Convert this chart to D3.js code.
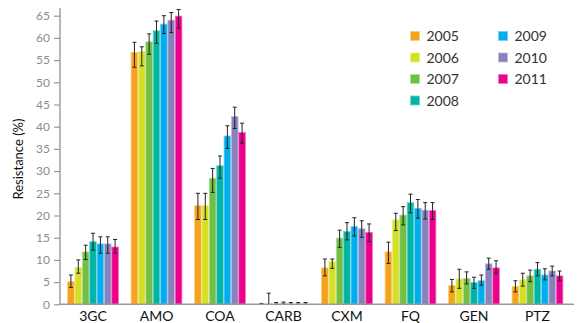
<!DOCTYPE html>
<html>
<head>
<meta charset="utf-8">
<style>
  body { margin: 0; background: #fff; }
  svg { display: block; font-family: Lato, "Noto Sans", sans-serif; }
</style>
</head>
<body>
<svg width="580" height="323"></svg>
<script src="https://d3js.org/d3.v7.min.js"></script>
<script>
// resistance (%) by antibiotic class, 2005-2011, with error bars

var categories = ["3GC", "AMO", "COA", "CARB", "CXM", "FQ", "GEN", "PTZ"];
var years = ["2005", "2006", "2007", "2008", "2009", "2010", "2011"];
var colors = ["#f7a21b", "#d7df23", "#72bf44", "#00b5a5", "#00aeef", "#8781bd", "#ec008c"];
var yTicks = [0, 5, 10, 15, 20, 25, 30, 35, 40, 45, 50, 55, 60, 65];

// one row per category, one column per year
var resistance = [
  [5.1, 8.3, 11.8, 14.1, 13.6, 13.6, 12.9],
  [56.7, 56.9, 59.1, 61.6, 63.1, 64.0, 64.9],
  [22.2, 22.2, 28.4, 31.2, 37.9, 42.3, 38.7],
  [0, 0, 0, 0.1, 0, 0, 0],
  [8.2, 9.6, 14.9, 16.4, 17.5, 17.0, 16.2],
  [11.8, 19.0, 20.1, 22.9, 21.6, 21.2, 21.1],
  [4.2, 5.7, 5.8, 4.9, 5.3, 9.1, 8.2],
  [4.0, 5.5, 6.4, 7.9, 6.6, 7.5, 6.4]
];
var ciLow = [
  [3.8, 7.0, 10.1, 12.2, 11.5, 11.5, 11.5],
  [53.4, 53.7, 56.3, 58.8, 61.0, 61.2, 62.2],
  [19.1, 19.1, 25.2, 28.4, 35.1, 39.6, 36.3],
  [0, 0, 0, 0, 0, 0, 0],
  [6.4, 8.1, 12.8, 14.5, 15.4, 15.1, 14.1],
  [9.2, 16.6, 17.9, 20.6, 19.4, 19.2, 19.1],
  [2.8, 3.6, 4.6, 3.6, 4.3, 7.9, 7.0],
  [2.8, 4.1, 5.1, 6.4, 5.5, 6.4, 5.3]
];
var ciHigh = [
  [6.6, 10.0, 13.3, 16.0, 15.2, 15.2, 14.6],
  [59.0, 58.0, 60.9, 63.8, 65.0, 65.7, 66.4],
  [25.0, 25.0, 30.6, 33.4, 40.2, 44.4, 40.8],
  [0.2, 2.5, 0.4, 0.5, 0.4, 0.4, 0.4],
  [10.2, 10.2, 16.7, 18.4, 19.5, 18.8, 18.1],
  [14.0, 20.5, 22.0, 24.8, 23.6, 22.9, 22.9],
  [5.6, 7.9, 7.3, 6.1, 6.6, 10.4, 9.8],
  [5.3, 7.0, 7.7, 9.4, 8.0, 8.6, 7.5]
];

var svg = d3.select("svg");
var x0 = 60, x1 = 574, yBottom = 304.3, yTop = 8;

var x = d3.scaleBand().domain(categories).range([60, 570.5]).paddingInner(0.2).paddingOuter(0.12);
var xs = d3.scaleBand().domain(years).range([0, x.bandwidth()]).paddingInner(0.1);
var y = d3.scaleLinear().domain([0, 65]).range([yBottom, yBottom - 65 * 4.44]);

var rows = [];
categories.forEach(function(c, i) {
  years.forEach(function(yr, j) {
    rows.push({cat: c, year: yr, color: colors[j], v: resistance[i][j], lo: ciLow[i][j], hi: ciHigh[i][j]});
  });
});

// bars
svg.append("g").selectAll("rect")
  .data(rows)
  .enter().append("rect")
  .attr("x", function(d) { return x(d.cat) + xs(d.year); })
  .attr("y", function(d) { return y(d.v); })
  .attr("width", xs.bandwidth())
  .attr("height", function(d) { return yBottom - y(d.v); })
  .attr("fill", function(d) { return d.color; })
  .attr("stroke", function(d) { return d3.interpolateRgb(d.color, "#fff")(0.45); })
  .attr("stroke-width", 0.8);

// error bars
var eb = svg.append("g").attr("stroke", "#222").attr("stroke-width", 1).attr("fill", "none");
rows.forEach(function(d) {
  var cx = x(d.cat) + xs(d.year) + xs.bandwidth() / 2;
  eb.append("line").attr("x1", cx).attr("x2", cx).attr("y1", y(d.lo)).attr("y2", y(d.hi));
  eb.append("line").attr("x1", cx - 2).attr("x2", cx + 2).attr("y1", y(d.hi)).attr("y2", y(d.hi));
  eb.append("line").attr("x1", cx - 2).attr("x2", cx + 2).attr("y1", y(d.lo)).attr("y2", y(d.lo));
});

// y axis
var yAxis = svg.append("g")
  .attr("transform", "translate(" + x0 + ",0)")
  .call(d3.axisLeft(y).tickValues(yTicks).tickSize(6).tickPadding(4));
yAxis.select(".domain").remove();
yAxis.selectAll("line").attr("stroke", "#9a9a9a").attr("stroke-width", 1.2);
yAxis.selectAll("text").attr("fill", "#8c8c8c").attr("font-size", 12).attr("font-family", "Lato");
svg.append("line").attr("x1", x0).attr("x2", x0).attr("y1", yTop).attr("y2", yBottom)
  .attr("stroke", "#9a9a9a").attr("stroke-width", 1.4);

// x axis
svg.append("line").attr("x1", x0).attr("x2", x1).attr("y1", yBottom).attr("y2", yBottom)
  .attr("stroke", "#9a9a9a").attr("stroke-width", 1.4);
svg.append("g").selectAll("text")
  .data(categories)
  .enter().append("text")
  .attr("x", function(d) { return x(d) + x.bandwidth() / 2; })
  .attr("y", 320.5)
  .attr("text-anchor", "middle")
  .attr("font-size", 14)
  .attr("fill", "#111")
  .text(function(d) { return d; });

// y label
svg.append("text")
  .attr("transform", "translate(23,159) rotate(-90)")
  .attr("text-anchor", "middle")
  .attr("font-size", 13)
  .attr("fill", "#111")
  .text("Resistance (%)");

// legend
var legend = svg.append("g").selectAll("g")
  .data(years)
  .enter().append("g")
  .attr("transform", function(d, i) {
    var col = i < 4 ? 0 : 1, row = i < 4 ? i : i - 4;
    return "translate(" + (410.5 + col * 88) + "," + (31.5 + row * 21.5) + ")";
  });
legend.append("rect")
  .attr("width", 9).attr("height", 9)
  .attr("fill", function(d, i) { return colors[i]; })
  .attr("stroke", function(d, i) { return d3.interpolateRgb(colors[i], "#fff")(0.45); })
  .attr("stroke-width", 0.8);
legend.append("text")
  .attr("x", 16).attr("y", 9.5)
  .attr("font-size", 14)
  .attr("fill", "#333")
  .text(function(d) { return d; });
</script>
</body>
</html>
